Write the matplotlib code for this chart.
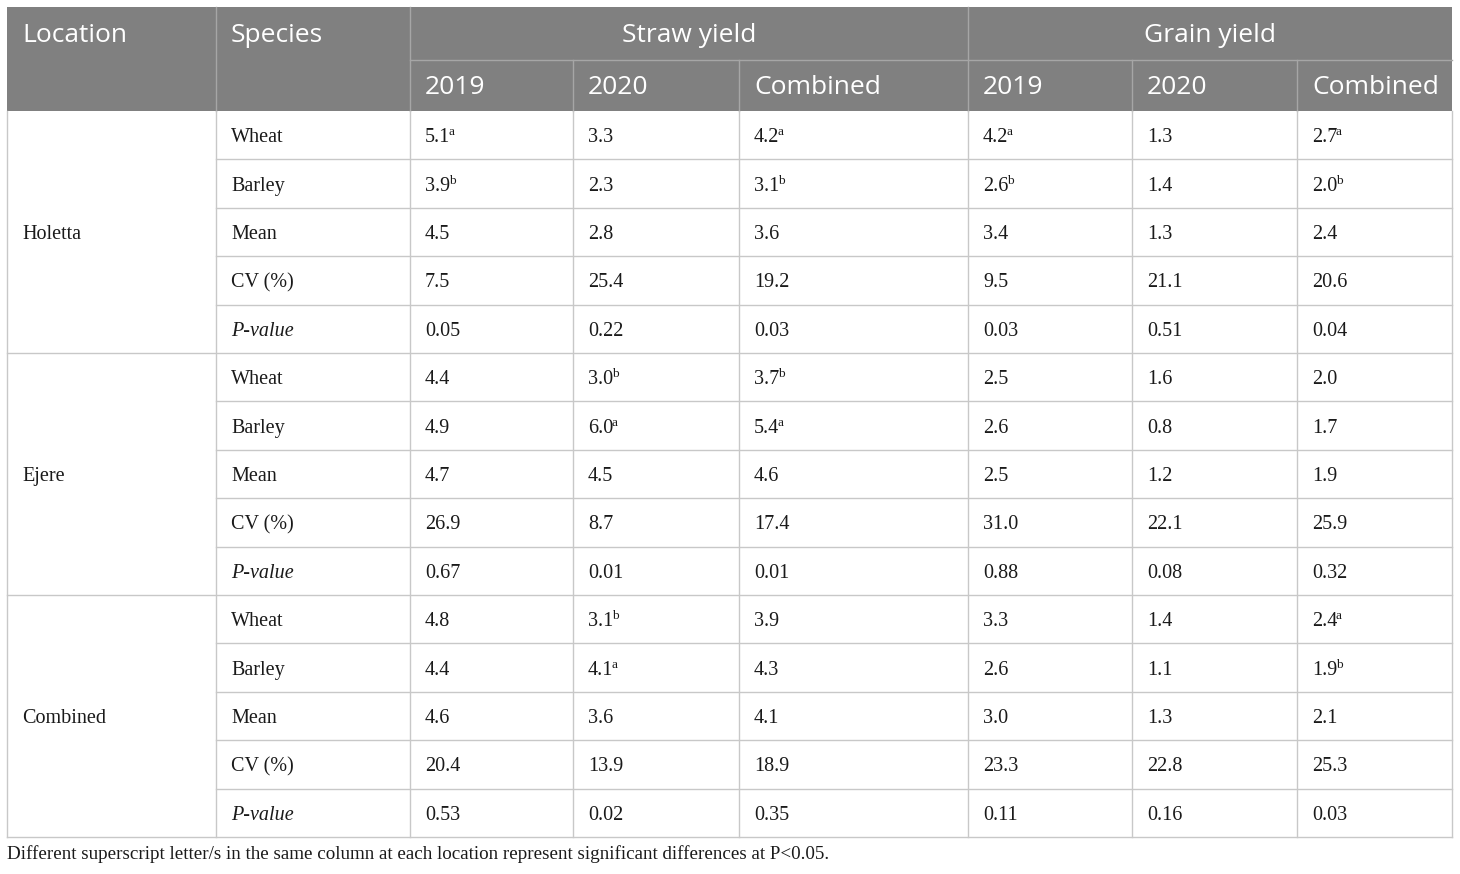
import matplotlib
matplotlib.use("Agg")
import matplotlib.pyplot as plt

# table content
locations = ["Holetta", "Ejere", "Combined"]
row_labels = ["Wheat", "Barley", "Mean", "CV (%)", "P-value"]
groups = ["Straw yield", "Grain yield"]
years = ["2019", "2020", "Combined"]

straw_2019 = ["5.1", "3.9", "4.5", "7.5", "0.05",
              "4.4", "4.9", "4.7", "26.9", "0.67",
              "4.8", "4.4", "4.6", "20.4", "0.53"]
straw_2019_sup = ["a", "b", "", "", "", "", "", "", "", "", "", "", "", "", ""]
straw_2020 = ["3.3", "2.3", "2.8", "25.4", "0.22",
              "3.0", "6.0", "4.5", "8.7", "0.01",
              "3.1", "4.1", "3.6", "13.9", "0.02"]
straw_2020_sup = ["", "", "", "", "", "b", "a", "", "", "", "b", "a", "", "", ""]
straw_comb = ["4.2", "3.1", "3.6", "19.2", "0.03",
              "3.7", "5.4", "4.6", "17.4", "0.01",
              "3.9", "4.3", "4.1", "18.9", "0.35"]
straw_comb_sup = ["a", "b", "", "", "", "b", "a", "", "", "", "", "", "", "", ""]
grain_2019 = ["4.2", "2.6", "3.4", "9.5", "0.03",
              "2.5", "2.6", "2.5", "31.0", "0.88",
              "3.3", "2.6", "3.0", "23.3", "0.11"]
grain_2019_sup = ["a", "b", "", "", "", "", "", "", "", "", "", "", "", "", ""]
grain_2020 = ["1.3", "1.4", "1.3", "21.1", "0.51",
              "1.6", "0.8", "1.2", "22.1", "0.08",
              "1.4", "1.1", "1.3", "22.8", "0.16"]
grain_2020_sup = [""] * 15
grain_comb = ["2.7", "2.0", "2.4", "20.6", "0.04",
              "2.0", "1.7", "1.9", "25.9", "0.32",
              "2.4", "1.9", "2.1", "25.3", "0.03"]
grain_comb_sup = ["a", "b", "", "", "", "", "", "", "", "", "a", "b", "", "", ""]

footnote = ("Different superscript letter/s in the same column at each location "
            "represent significant differences at P<0.05.")

columns = [straw_2019, straw_2020, straw_comb, grain_2019, grain_2020, grain_comb]
sups = [straw_2019_sup, straw_2020_sup, straw_comb_sup,
        grain_2019_sup, grain_2020_sup, grain_comb_sup]

# layout (pixels)
col_x = [7, 216, 410, 573, 739, 968, 1132, 1297, 1452]
top, head_mid, head_bot, bottom = 7, 60, 111, 837
n_rows = len(locations) * len(row_labels)
row_h = (bottom - head_bot) / n_rows
pad = 15
dy = 2.5  # text baseline nudge
grid_c = "#c8c8c8"
head_c = "#808080"
head_line = "#a6a6a6"
head_font = "Open Sans"
body_font = "Liberation Serif"
txt_c = "#1a1a1a"
hsize, bsize = 19, 14.5

fig = plt.figure(figsize=(14.6, 8.74), dpi=100)
ax = fig.add_axes([0, 0, 1, 1])
ax.set_xlim(0, 1460)
ax.set_ylim(874, 0)
ax.axis("off")

# header
ax.add_patch(plt.Rectangle((col_x[0], top), col_x[-1] - col_x[0], head_bot - top,
                           facecolor=head_c, edgecolor="none"))
for x in [col_x[1], col_x[2], col_x[5]]:
    ax.plot([x, x], [top, head_bot], color=head_line, lw=1)
for x in [col_x[3], col_x[4], col_x[6], col_x[7]]:
    ax.plot([x, x], [head_mid, head_bot], color=head_line, lw=1)
ax.plot([col_x[2], col_x[-1]], [head_mid, head_mid], color=head_line, lw=1)

hy1 = (top + head_mid) / 2 + dy
hy2 = (head_mid + head_bot) / 2 + dy
ax.text(col_x[0] + pad, hy1, "Location", color="white", fontsize=hsize,
        family=head_font, va="center", ha="left")
ax.text(col_x[1] + pad, hy1, "Species", color="white", fontsize=hsize,
        family=head_font, va="center", ha="left")
for g, (a, b) in zip(groups, [(col_x[2], col_x[5]), (col_x[5], col_x[8])]):
    ax.text((a + b) / 2, hy1, g, color="white", fontsize=hsize,
            family=head_font, va="center", ha="center")
for i in range(6):
    ax.text(col_x[2 + i] + pad, hy2, years[i % 3], color="white", fontsize=hsize,
            family=head_font, va="center", ha="left")

# body grid
for x in col_x:
    ax.plot([x, x], [head_bot, bottom], color=grid_c, lw=1)
for r in range(1, n_rows + 1):
    y = head_bot + r * row_h
    x0 = col_x[0] if r % len(row_labels) == 0 else col_x[1]
    ax.plot([x0, col_x[-1]], [y, y], color=grid_c, lw=1)

# body text
main_texts = []
for li, loc in enumerate(locations):
    yc = head_bot + (li * len(row_labels) + len(row_labels) / 2) * row_h + dy
    ax.text(col_x[0] + pad, yc, loc, fontsize=bsize, family=body_font,
            va="center", ha="left", color=txt_c)
for r in range(n_rows):
    yc = head_bot + (r + 0.5) * row_h + dy
    lab = row_labels[r % len(row_labels)]
    ax.text(col_x[1] + pad, yc, lab, fontsize=bsize, family=body_font,
            va="center", ha="left", color=txt_c,
            style="italic" if lab == "P-value" else "normal")
    for c in range(6):
        t = ax.text(col_x[2 + c] + pad, yc, columns[c][r], fontsize=bsize,
                    family=body_font, va="center", ha="left", color=txt_c)
        if sups[c][r]:
            main_texts.append((t, sups[c][r], yc))

fig.canvas.draw()
inv = ax.transData.inverted()
for t, s, yc in main_texts:
    bb = t.get_window_extent()
    x_end = inv.transform((bb.x1, bb.y0))[0]
    ax.text(x_end - 1.5, yc - 5.5, s, fontsize=9.5, family=body_font,
            va="center", ha="left", color=txt_c)

ax.text(col_x[0], 854, footnote, fontsize=13.7, family=body_font,
        va="center", ha="left", color=txt_c)

fig.savefig("out.png", dpi=100, facecolor="white")
